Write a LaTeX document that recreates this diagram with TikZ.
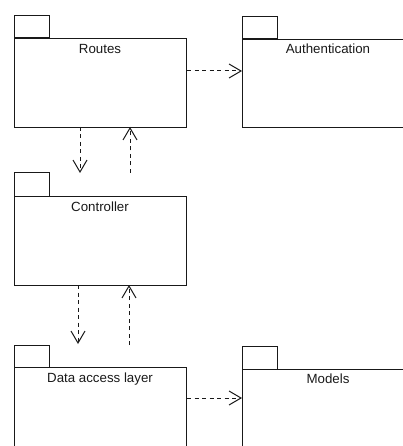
\documentclass[tikz,border=0pt]{standalone}
\usepackage{fontspec}
\setmainfont{Liberation Sans}
\usetikzlibrary{arrows.meta}
\begin{document}
\begin{tikzpicture}[x=1pt,y=-1pt,
  pkg/.style={draw=black!90,line width=1pt},
  lbl/.style={font=\fontsize{13.3}{15}\selectfont,text=black!90,inner sep=0pt,anchor=base},
  dep/.style={draw=black!90,line width=1pt,dash pattern=on 4pt off 3.5pt,
    -{Straight Barb[length=12pt,width=14pt,line width=1pt]}}]
\useasboundingbox (0,0) rectangle (403,446);
\clip (0,0) rectangle (403,446);
% Routes
\draw[pkg] (14,16) rectangle (49,38);
\node[pkg,minimum width=172pt,minimum height=89pt,inner sep=0pt,anchor=north west] (routes) at (14,38) {};
\node[lbl] (routesl) at (100,53.5) {Routes};
% Authentication
\draw[pkg] (242,17) rectangle (277,39);
\node[pkg,minimum width=172pt,minimum height=88pt,inner sep=0pt,anchor=north west] (auth) at (242,39) {};
\node[lbl] (authl) at (328,53.5) {Authentication};
% Controller
\draw[pkg] (14,173) rectangle (49,196);
\node[pkg,minimum width=172pt,minimum height=89pt,inner sep=0pt,anchor=north west] (ctrl) at (14,196) {};
\node[lbl] (ctrll) at (100,211.5) {Controller};
% Data access layer
\draw[pkg] (14,345) rectangle (49,367);
\node[pkg,minimum width=172pt,minimum height=89pt,inner sep=0pt,anchor=north west] (dal) at (14,367) {};
\node[lbl] (dall) at (100,382.5) {Data access layer};
% Models
\draw[pkg] (242,346) rectangle (277,369);
\node[pkg,minimum width=172pt,minimum height=89pt,inner sep=0pt,anchor=north west] (models) at (242,369) {};
\node[lbl] (modelsl) at (328,383.5) {Models};
% connectors
\coordinate (c1) at (80,173);
\coordinate (c2) at (130,173);
\coordinate (c3) at (78,344);
\coordinate (c4) at (129,345);
\draw[dep] (routes.east |- 0,71) -- (auth.west |- 0,71);
\draw[dep] (80,127) -- (c1);
\draw[dep] (c2) -- (130,127);
\draw[dep] (78,285) -- (c3);
\draw[dep] (c4) -- (129,285);
\draw[dep] (dal.east |- 0,398) -- (models.west |- 0,398);
\end{tikzpicture}
\end{document}
